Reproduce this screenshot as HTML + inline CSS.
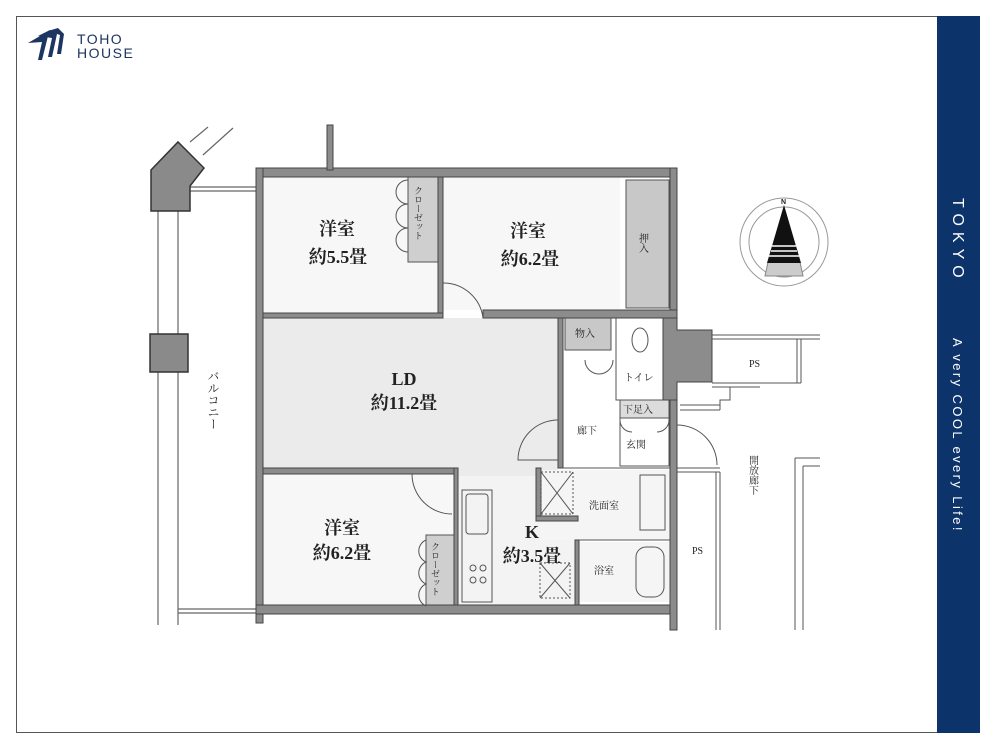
<!DOCTYPE html>
<html><head><meta charset="utf-8"><style>
html,body{margin:0;padding:0;background:#fff;}
svg{display:block;}
text{font-family:"Liberation Serif","Noto Serif CJK SC",serif;fill:#222;}
</style></head><body>
<svg width="1000" height="750" viewBox="0 0 1000 750" xmlns="http://www.w3.org/2000/svg">
<rect x="0" y="0" width="1000" height="750" fill="#fff"/>
<rect x="16.5" y="16.5" width="940" height="716" fill="none" stroke="#555" stroke-width="1"/>
<rect x="937" y="16" width="43" height="717" fill="#0d336b"/>
<text x="953" y="198" transform="rotate(90 953 198)" style="font-family:'Liberation Sans',sans-serif;fill:#fff;font-size:16px;letter-spacing:6px">TOKYO</text>
<text x="953" y="338" transform="rotate(90 953 338)" style="font-family:'Liberation Sans',sans-serif;fill:#fff;font-size:13px;letter-spacing:2.4px">A very COOL every Life!</text>
<!-- logo -->
<g fill="#1d3561">
<polygon points="28,43 40,36 48,36 42,60 38,60 42,42"/>
<polygon points="38,36 50,30 57,34 52,57 48,57 52,38"/>
<polygon points="48,31 58,28 64,34 61,54 57,54 60,35"/>
</g>
<text x="77" y="44" style="font-family:'Liberation Sans',sans-serif;fill:#1d3561;font-size:14px;letter-spacing:1.5px">TOHO</text>
<text x="77" y="58" style="font-family:'Liberation Sans',sans-serif;fill:#1d3561;font-size:14px;letter-spacing:1.5px">HOUSE</text>

<!-- balcony -->
<g stroke="#666" stroke-width="1.2" fill="none">
<line x1="158" y1="210" x2="158" y2="625"/><line x1="178" y1="210" x2="178" y2="625"/>
<line x1="190" y1="142" x2="208" y2="127"/><line x1="203" y1="155" x2="233" y2="128"/>
<line x1="189" y1="187" x2="256" y2="187"/><line x1="189" y1="191" x2="256" y2="191"/>
<line x1="178" y1="609" x2="256" y2="609"/><line x1="178" y1="613" x2="256" y2="613"/>
</g>
<polygon points="151,170 178,142 204,168 190,186 190,211 151,211" fill="#8a8a8a" stroke="#333" stroke-width="1.5"/>
<rect x="150" y="334" width="38" height="38" fill="#8a8a8a" stroke="#333" stroke-width="1.5"/>
<text x="213" y="370" style="font-size:12px;writing-mode:vertical-rl">バルコニー</text>

<!-- room fills -->
<rect x="263" y="318" width="295" height="150" fill="#ebebeb"/>
<rect x="263" y="177" width="175" height="136" fill="#f7f7f7"/>
<rect x="443" y="177" width="177" height="133" fill="#f7f7f7"/>
<rect x="263" y="474" width="191" height="131" fill="#f7f7f7"/>
<rect x="458" y="474" width="117" height="131" fill="#f3f3f3"/>
<rect x="458" y="468" width="100" height="8" fill="#ebebeb"/>
<rect x="540" y="470" width="129" height="70" fill="#f5f5f5"/>
<rect x="578" y="542" width="91" height="60" fill="#f5f5f5"/>
<!-- closets -->
<rect x="408" y="177" width="30" height="85" fill="#cfcfcf" stroke="#555"/>
<rect x="626" y="180" width="43" height="128" fill="#c8c8c8" stroke="#555"/>
<rect x="426" y="535" width="28" height="70" fill="#cfcfcf" stroke="#555"/>
<rect x="565" y="318" width="46" height="32" fill="#c8c8c8" stroke="#555"/>
<rect x="620" y="400" width="49" height="18" fill="#dcdcdc" stroke="#555"/>
<rect x="616" y="318" width="47" height="82" fill="#fff" stroke="#555"/>
<rect x="620" y="418" width="49" height="48" fill="#fff" stroke="#555"/>

<!-- walls -->
<g fill="#8c8c8c" stroke="#444" stroke-width="1">
<rect x="256" y="168" width="421" height="9"/>
<rect x="327" y="125" width="6" height="45"/>
<rect x="256" y="168" width="7" height="455"/>
<rect x="670" y="168" width="7" height="160"/>
<rect x="256" y="605" width="421" height="9"/>
<rect x="670" y="400" width="7" height="230"/>
<rect x="438" y="177" width="5" height="141"/>
<rect x="483" y="310" width="194" height="8"/>
<rect x="263" y="313" width="180" height="5"/>
<rect x="558" y="318" width="5" height="150"/>
<rect x="263" y="468" width="191" height="6"/>
<rect x="454" y="468" width="4" height="137"/>
<rect x="575" y="540" width="4" height="65"/>
<rect x="536" y="468" width="5" height="52"/>
<rect x="536" y="516" width="42" height="5"/>
<polygon points="663,318 677,318 677,330 712,330 712,382 677,382 677,400 663,400"/>
</g>
<g stroke="#555" fill="none" stroke-width="1">
<line x1="563" y1="468" x2="670" y2="468"/>
<line x1="579" y1="540" x2="670" y2="540"/>
<line x1="712" y1="335" x2="820" y2="335"/><line x1="712" y1="339" x2="820" y2="339"/>
<path d="M797 339 V383 M801 339 V383 M712 383 H801 M712 387 H760 M730 387 V400 H720 V410 M680 405 H720 M680 410 H720"/>
<line x1="677" y1="468" x2="720" y2="468"/><line x1="677" y1="472" x2="720" y2="472"/>
<line x1="716" y1="472" x2="716" y2="630"/><line x1="720" y1="472" x2="720" y2="630"/>
<path d="M795 458 H820 M795 458 V630 M803 466 H820 M803 466 V630"/>
<!-- doors -->
<path d="M443 283 A40 40 0 0 1 483 318"/>
<path d="M558 420 A40 40 0 0 0 518 460 L558 460"/>
<path d="M412 474 A40 40 0 0 0 452 514"/>
<path d="M677 425 A40 40 0 0 1 717 465"/>
<path d="M408 180 a12 12 0 0 0 0 24 a12 12 0 0 0 0 24 a12 12 0 0 0 0 24"/>
<path d="M426 540 a12 12 0 0 0 0 22 a12 12 0 0 0 0 22 a12 12 0 0 0 0 22"/>
<path d="M585 360 a14 14 0 0 0 14 14 M613 360 a14 14 0 0 1 -14 14 M620 420 a12 12 0 0 0 12 12 M669 420 a12 12 0 0 1 -12 12"/>
<rect x="462" y="490" width="30" height="112"/>
<rect x="466" y="494" width="22" height="40" rx="3"/>
<circle cx="473" cy="568" r="3"/><circle cx="483" cy="568" r="3"/><circle cx="473" cy="580" r="3"/><circle cx="483" cy="580" r="3"/>
<rect x="541" y="472" width="32" height="42" stroke-dasharray="2 2"/><path d="M541 472 L573 514 M573 472 L541 514"/>
<rect x="540" y="563" width="30" height="35" stroke-dasharray="2 2"/><path d="M540 563 L570 598 M570 563 L540 598"/>
<rect x="636" y="547" width="28" height="50" rx="10"/>
<rect x="640" y="475" width="25" height="55"/>
<ellipse cx="640" cy="340" rx="8" ry="12"/>
</g>

<!-- labels -->
<g style="font-size:18px;font-weight:bold" text-anchor="middle">
<text x="337" y="235">洋室</text><text x="338" y="263">約5.5畳</text>
<text x="528" y="237">洋室</text><text x="530" y="265">約6.2畳</text>
<text x="404" y="385">LD</text><text x="404" y="409">約11.2畳</text>
<text x="342" y="534">洋室</text><text x="342" y="559">約6.2畳</text>
<text x="532" y="538">K</text><text x="532" y="562">約3.5畳</text>
</g>
<g style="font-size:10px">
<text x="418" y="186" style="writing-mode:vertical-rl;font-size:9px">クローゼット</text>
<text x="435" y="542" style="writing-mode:vertical-rl;font-size:9px">クローゼット</text>
<text x="642" y="233" style="writing-mode:vertical-rl;font-size:10px">押入</text>
<text x="575" y="337">物入</text>
<text x="624" y="381">トイレ</text>
<text x="623" y="413">下足入</text>
<text x="626" y="448">玄関</text>
<text x="577" y="434">廊下</text>
<text x="589" y="509">洗面室</text>
<text x="594" y="574">浴室</text>
<text x="749" y="367">PS</text>
<text x="692" y="554">PS</text>
<text x="752" y="455" style="writing-mode:vertical-rl;font-size:10px">開放廊下</text>
</g>

<!-- compass -->
<g transform="translate(784,242)">
<circle r="44" fill="none" stroke="#999" stroke-width="1"/>
<circle r="35" fill="none" stroke="#999" stroke-width="1"/>
<path d="M-19 34 L19 34 L16 20 L-16 20 Z" fill="#ccc" stroke="#888"/>
<polygon points="0,-37 -17,21 17,21" fill="#111"/>
<g stroke="#fff" stroke-width="1.5"><line x1="-12" y1="4" x2="12" y2="4"/><line x1="-13" y1="9" x2="13" y2="9"/><line x1="-15" y1="14" x2="15" y2="14"/></g>
<text x="-3" y="-38" style="font-family:'Liberation Sans',sans-serif;font-size:7px;font-weight:bold">N</text>
</g>
</svg>
</body></html>
